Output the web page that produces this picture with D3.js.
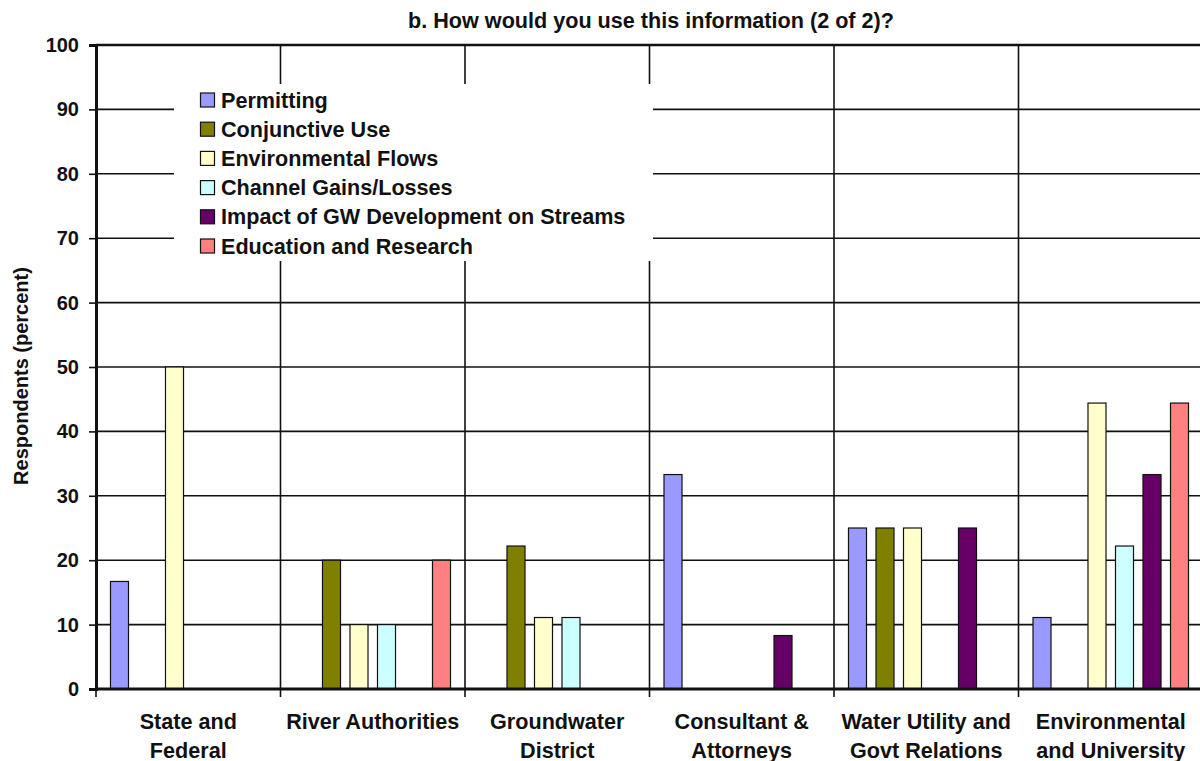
<!DOCTYPE html>
<html>
<head>
<meta charset="utf-8">
<script src="https://d3js.org/d3.v7.min.js"></script>
<style>
  body { margin: 0; background: #fff; }
  text { font-family: "Liberation Sans", Arial, sans-serif; font-weight: bold; fill: #111; }
</style>
</head>
<body>
<svg width="1200" height="761"></svg>
<script>
// categories (two-line labels)
var categories = ["State and|Federal", "River Authorities", "Groundwater|District",
  "Consultant &|Attorneys", "Water Utility and|Govt Relations", "Environmental|and University"];
var series = ["Permitting", "Conjunctive Use", "Environmental Flows",
  "Channel Gains/Losses", "Impact of GW Development on Streams", "Education and Research"];
var colors = ["#9999ff", "#808000", "#ffffcc", "#ccffff", "#660066", "#ff8080"];
// percent of respondents, one array per series, in category order
var permitting   = [16.7, 0, 0, 33.3, 25, 11.1];
var conjunctive  = [0, 20, 22.2, 0, 25, 0];
var envFlows     = [50, 10, 11.1, 0, 25, 44.4];
var channel      = [0, 10, 11.1, 0, 0, 22.2];
var impact       = [0, 0, 0, 8.3, 25, 33.3];
var education    = [0, 20, 0, 0, 0, 44.4];
var yTicks = [0, 10, 20, 30, 40, 50, 60, 70, 80, 90, 100];

var values = [permitting, conjunctive, envFlows, channel, impact, education];

var svg = d3.select("svg");
var plotL = 96, plotT = 45, plotB = 689, bandW = 184.5;

var x0 = d3.scaleBand().domain(categories).range([plotL, plotL + bandW * categories.length]);
var x1 = d3.scaleBand().domain(series).range([0, x0.bandwidth()]).paddingInner(0.345).paddingOuter(0.527);
var y = d3.scaleLinear().domain([0, 100]).range([plotB, plotT]);

// title
svg.append("text")
  .attr("x", 651).attr("y", 28)
  .attr("text-anchor", "middle")
  .attr("font-size", "21.6px")
  .text("b. How would you use this information (2 of 2)?");

// horizontal gridlines
svg.append("g").selectAll("line")
  .data(yTicks.slice(1, -1))
  .enter().append("line")
  .attr("x1", plotL).attr("x2", 1200)
  .attr("y1", function(d) { return y(d); })
  .attr("y2", function(d) { return y(d); })
  .attr("stroke", "#111").attr("stroke-width", 1.6);

// vertical separators between categories
svg.append("g").selectAll("line")
  .data(categories.slice(1))
  .enter().append("line")
  .attr("x1", function(d) { return x0(d); })
  .attr("x2", function(d) { return x0(d); })
  .attr("y1", plotT).attr("y2", plotB + 8)
  .attr("stroke", "#111").attr("stroke-width", 1.6);

// top border
svg.append("line")
  .attr("x1", plotL).attr("x2", 1200)
  .attr("y1", plotT).attr("y2", plotT)
  .attr("stroke", "#111").attr("stroke-width", 2.5);

// legend background hides the grid
var lg = svg.append("g");
lg.append("rect")
  .attr("x", 174).attr("y", 84).attr("width", 479).attr("height", 177)
  .attr("fill", "#fff");
series.forEach(function(s, i) {
  var cy = 100 + i * 29.2;
  lg.append("rect")
    .attr("x", 200.5).attr("y", cy - 7).attr("width", 14).attr("height", 14)
    .attr("fill", colors[i]).attr("stroke", "#111").attr("stroke-width", 1.2);
  lg.append("text")
    .attr("x", 221).attr("y", cy + 7.5)
    .attr("font-size", "21.6px")
    .text(s);
});

// bars
var groups = svg.append("g").selectAll("g")
  .data(categories)
  .enter().append("g")
  .attr("transform", function(d) { return "translate(" + x0(d) + ",0)"; });

groups.selectAll("rect")
  .data(function(d, ci) {
    return series.map(function(s, si) { return { s: s, si: si, v: values[si][ci] }; })
      .filter(function(e) { return e.v > 0; });
  })
  .enter().append("rect")
  .attr("x", function(d) { return x1(d.s); })
  .attr("y", function(d) { return y(d.v); })
  .attr("width", x1.bandwidth())
  .attr("height", function(d) { return plotB - y(d.v); })
  .attr("fill", function(d) { return colors[d.si]; })
  .attr("stroke", "#111").attr("stroke-width", 1.2);

// left axis
var yAxis = svg.append("g")
  .attr("transform", "translate(" + plotL + ",0)")
  .call(d3.axisLeft(y).tickValues(yTicks).tickSize(7).tickPadding(10));
yAxis.select(".domain").attr("stroke", "#111").attr("stroke-width", 3);
yAxis.selectAll(".tick line").attr("stroke", "#111").attr("stroke-width", 1.6);
yAxis.selectAll(".tick text")
  .attr("font-size", "20px").attr("font-family", "Liberation Sans, Arial, sans-serif")
  .attr("font-weight", "bold").attr("fill", "#111");

// bottom axis line
svg.append("line")
  .attr("x1", plotL - 1).attr("x2", 1200)
  .attr("y1", plotB).attr("y2", plotB)
  .attr("stroke", "#111").attr("stroke-width", 3);
svg.append("line")
  .attr("x1", plotL).attr("x2", plotL)
  .attr("y1", plotB).attr("y2", plotB + 8)
  .attr("stroke", "#111").attr("stroke-width", 1.6);

// category labels
categories.forEach(function(c) {
  var lines = c.split("|");
  var cx = x0(c) + x0.bandwidth() / 2;
  var t = svg.append("text")
    .attr("x", cx)
    .attr("y", 729)
    .attr("text-anchor", "middle")
    .attr("font-size", "21.6px");
  lines.forEach(function(l, i) {
    t.append("tspan")
      .attr("x", cx)
      .attr("dy", i === 0 ? 0 : 28.5)
      .text(l);
  });
});

// y axis title
svg.append("text")
  .attr("transform", "translate(28,376) rotate(-90)")
  .attr("text-anchor", "middle")
  .attr("font-size", "20px")
  .text("Respondents (percent)");
</script>
</body>
</html>
